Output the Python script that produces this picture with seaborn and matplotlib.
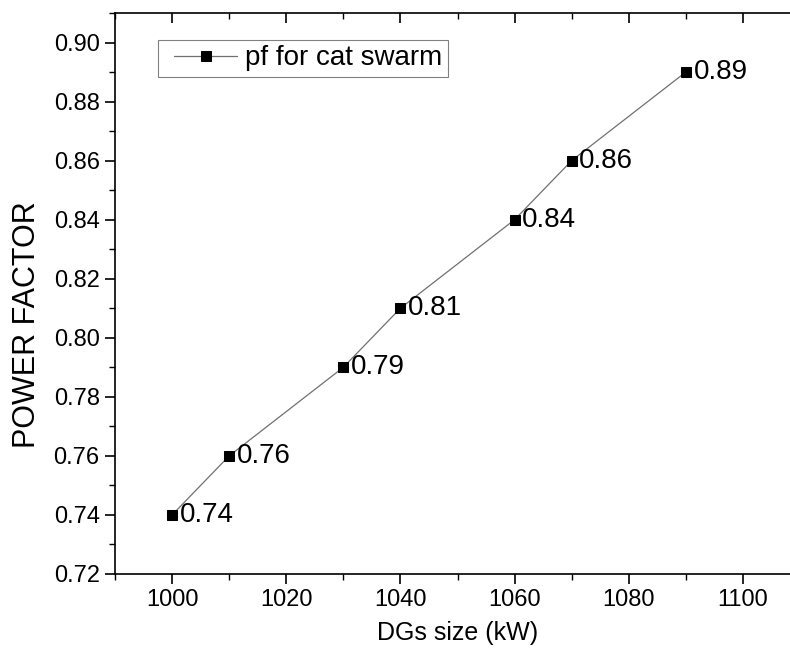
import matplotlib
matplotlib.use("Agg")
import matplotlib.pyplot as plt
import seaborn as sns
import pandas as pd
from matplotlib.ticker import MultipleLocator
from matplotlib.lines import Line2D
from matplotlib.legend_handler import HandlerLine2D

dg_size = [1000, 1010, 1030, 1040, 1060, 1070, 1090]
power_factor = [0.74, 0.76, 0.79, 0.81, 0.84, 0.86, 0.89]
series_name = "pf for cat swarm"
x_ticks = [1000, 1020, 1040, 1060, 1080, 1100]
y_ticks = [0.72, 0.74, 0.76, 0.78, 0.80, 0.82, 0.84, 0.86, 0.88, 0.90]

df = pd.DataFrame({"DGs size (kW)": dg_size, "POWER FACTOR": power_factor})

sns.set_theme(style="white")
plt.rcParams['font.family'] = ['Liberation Sans', 'DejaVu Sans']
plt.rcParams['text.color'] = 'black'
plt.rcParams['axes.labelcolor'] = 'black'

fig = plt.figure(figsize=(7.9, 6.58), dpi=100)
ax = fig.add_axes([115/790, 1-574/658, (800-115)/790, (574-13)/658])

sns.lineplot(data=df, x="DGs size (kW)", y="POWER FACTOR", ax=ax,
             color="#707070", linewidth=0.9, marker="s", markersize=7.5,
             markerfacecolor="black", markeredgecolor="black",
             label=series_name)

for xv, yv in zip(dg_size, power_factor):
    ax.annotate(f"{yv:.2f}", (xv, yv), xytext=(5.5, 0), textcoords="offset points",
                ha="left", va="center", fontsize=20, color="black")

ax.set_xlim(990, 1110)
ax.set_ylim(0.72, 0.91)
ax.xaxis.set_minor_locator(MultipleLocator(10))
ax.yaxis.set_minor_locator(MultipleLocator(0.01))
ax.set_xticks(x_ticks)
ax.set_xticklabels([str(v) for v in x_ticks])
ax.set_yticks(y_ticks)
ax.set_yticklabels([f"{v:.2f}" for v in y_ticks])

for s in ax.spines.values():
    s.set_color("black")
    s.set_linewidth(1.2)

ax.tick_params(axis="both", which="major", direction="out", length=7, width=1.2,
               labelsize=17, colors="black", bottom=True, left=True, pad=4)
ax.tick_params(axis="both", which="minor", direction="out", length=4, width=1.0,
               bottom=True, left=True, colors="black")
ax.tick_params(axis="x", which="both", top=True)
ax.tick_params(axis="y", which="both", right=True)

# top/right ticks point inward
for t in ax.xaxis.get_major_ticks() + ax.xaxis.get_minor_ticks():
    t.tick2line.set_marker(3)
for t in ax.yaxis.get_major_ticks() + ax.yaxis.get_minor_ticks():
    t.tick2line.set_marker(0)
    t.tick2line.set_markersize(5)

ax.set_xlabel("DGs size (kW)", fontsize=18, labelpad=7, color="black")
ax.set_ylabel("POWER FACTOR", fontsize=22, color="black")
ax.yaxis.set_label_coords(-0.106, 0.445)

leg = ax.legend(loc="upper left", bbox_to_anchor=(0.063, 0.952), fontsize=20,
                frameon=True, fancybox=False, handlelength=2.64, borderpad=0.2,
                handletextpad=0.29, borderaxespad=0,
                handler_map={Line2D: HandlerLine2D(xpad=0.38)})
leg.get_frame().set_edgecolor("#606060")
leg.get_frame().set_linewidth(0.8)
for txt in leg.get_texts():
    txt.set_color("black")

fig.savefig("out.png", dpi=100)
